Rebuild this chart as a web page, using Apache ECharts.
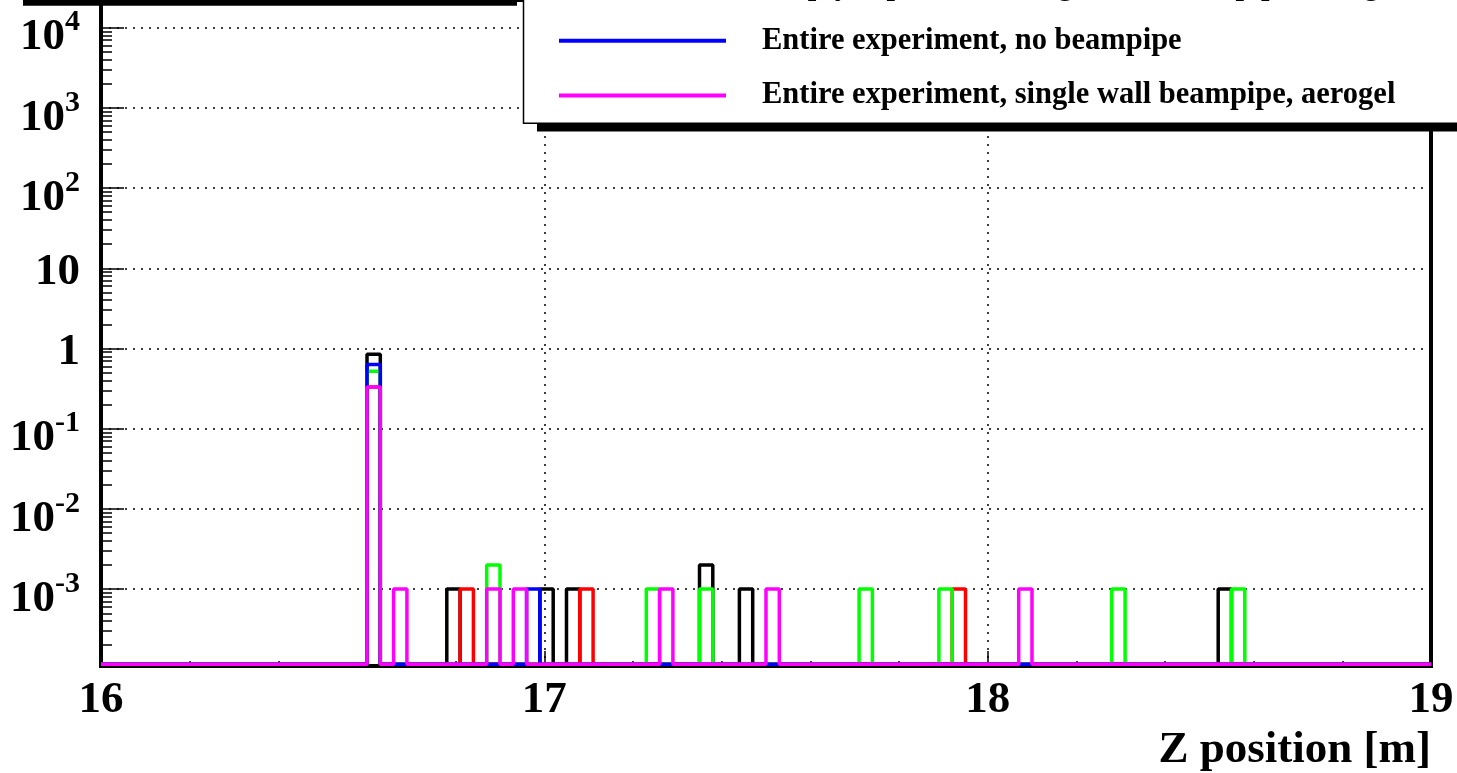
<!DOCTYPE html>
<html>
<head>
<meta charset="utf-8">
<script src="https://cdn.jsdelivr.net/npm/echarts@6/dist/echarts.min.js"></script>
<style>
  html, body { margin: 0; padding: 0; background: #fff; }
  #main { width: 1457px; height: 773px; }
</style>
</head>
<body>
<div id="main"></div>
<script>
// histogram binning: 100 bins over 16..19 m
var binStart = 16
var binWidth = 0.03
var nBins = 100

var seriesNames = [
  'Entire experiment, double wall beampipe',
  'Empty experiment, double wall beampipe',
  'Empty experiment, single wall beampipe, aerogel',
  'Entire experiment, no beampipe',
  'Entire experiment, single wall beampipe, aerogel'
]
var seriesColors = ['#000000', '#ff0000', '#00ff00', '#0000ff', '#ff00ff']

// filled bins (bin index) and their contents, per histogram
var blackBins = [20, 26, 33, 35, 45, 48, 84]
var blackVals = [0.85, 0.001, 0.001, 0.001, 0.002, 0.001, 0.001]
var redBins = [20, 27, 36, 64]
var redVals = [0.33, 0.001, 0.001, 0.001]
var greenBins = [20, 29, 41, 45, 57, 63, 76, 85]
var greenVals = [0.52, 0.002, 0.001, 0.001, 0.001, 0.001, 0.001, 0.001]
var blueBins = [20, 32]
var blueVals = [0.63, 0.001]
var magentaBins = [20, 22, 29, 31, 42, 50, 69]
var magentaVals = [0.33, 0.001, 0.001, 0.001, 0.001, 0.001, 0.001]

var xTicks = [16, 17, 18, 19]
var yMin = 1.1e-4
var yMax = 22130
var emptyLevel = 1.16e-4   // empty bins are drawn on the frame bottom

var font = 'Liberation Serif'

function buildHist (bins, vals) {
  var h = []
  for (var i = 0; i < nBins; i++) h.push(emptyLevel)
  for (var k = 0; k < bins.length; k++) h[bins[k]] = vals[k]
  var pts = []
  for (var j = 0; j < nBins; j++) pts.push([+(binStart + j * binWidth).toFixed(2), h[j]])
  pts.push([+(binStart + nBins * binWidth).toFixed(2), h[nBins - 1]])
  return pts
}

var hists = [
  buildHist(blackBins, blackVals),
  buildHist(redBins, redVals),
  buildHist(greenBins, greenVals),
  buildHist(blueBins, blueVals),
  buildHist(magentaBins, magentaVals)
]

var series = hists.map(function (d, i) {
  return {
    name: seriesNames[i],
    type: 'line',
    step: 'end',
    showSymbol: false,
    yAxisIndex: 0,
    data: d,
    color: seriesColors[i],
    lineStyle: { width: 3.5, color: seriesColors[i] }
  }
})

// log minor ticks (2..9 x 10^n), like ROOT draws them
var minorVals = []
for (var n = -4; n <= 4; n++) {
  for (var m = 2; m <= 9; m++) {
    var mv = m * Math.pow(10, n)
    if (mv > yMin && mv < yMax) minorVals.push(mv)
  }
}

var dotted = { color: '#000', width: 1.5, type: [2, 6] }
var labelBase = { fontFamily: font, fontWeight: 'bold', color: '#000' }

var chart = echarts.init(document.getElementById('main'))
var option = {
  animation: false,
  backgroundColor: '#fff',
  grid: {
    left: 101, right: 26, top: 0, bottom: 106,
    show: true, borderColor: '#000', borderWidth: 4, backgroundColor: 'transparent'
  },
  legend: {
    orient: 'vertical',
    left: 523,
    top: -148.5,
    padding: [10, 120, 11.6, 36],
    itemGap: 23.6,
    itemWidth: 167,
    itemHeight: 4,
    icon: 'rect',
    selectedMode: false,
    z: 10,
    data: seriesNames,
    textStyle: {
      fontFamily: font, fontWeight: 'bold', fontSize: 30.5, color: '#000',
      lineHeight: 30, padding: [0, 0, 0, 31]
    }
  },
  xAxis: {
    type: 'value',
    min: xTicks[0],
    max: xTicks[xTicks.length - 1],
    interval: 1,
    name: 'Z position [m]',
    nameLocation: 'end',
    nameGap: 0,
    nameTextStyle: {
      fontFamily: font, fontWeight: 'bold', fontSize: 45, color: '#000',
      align: 'right', verticalAlign: 'top', padding: [62, 0, 0, 0]
    },
    axisLine: { lineStyle: { color: '#000', width: 3 } },
    axisTick: { inside: true, length: 15, lineStyle: { color: '#000', width: 1.5 } },
    minorTick: { show: true, splitNumber: 5, length: 5, lineStyle: { color: '#000', width: 1.5 } },
    splitLine: { show: true, lineStyle: dotted },
    axisLabel: {
      fontFamily: font, fontWeight: 'bold', fontSize: 45, color: '#000', margin: 12
    }
  },
  yAxis: [
    {
      type: 'log',
      logBase: 10,
      min: yMin,
      max: yMax,
      splitNumber: 8,
      axisLine: { show: true, lineStyle: { color: '#000', width: 4 } },
      axisTick: { inside: true, length: 23, lineStyle: { color: '#000', width: 1.5 } },
      splitLine: { show: true, lineStyle: dotted },
      axisLabel: {
        margin: 21,
        showMinLabel: false,
        showMaxLabel: false,
        formatter: function (v) {
          var e = Math.round(Math.log10(v))
          if (e === 0) return '{b|1}'
          if (e === 1) return '{b|10}'
          return '{bb|10}{s|' + e + '}'
        },
        rich: {
          b: Object.assign({ fontSize: 45, padding: [8, 0, 0, 0] }, labelBase),
          bb: Object.assign({ fontSize: 45, padding: [20, 0, 0, 0], verticalAlign: 'bottom' }, labelBase),
          s: Object.assign({ fontSize: 30, padding: [12.5, 0, 0, 0], verticalAlign: 'top' }, labelBase)
        }
      }
    },
    {
      // minor ticks only
      type: 'log',
      logBase: 10,
      min: yMin,
      max: yMax,
      position: 'left',
      axisLine: { show: false },
      axisLabel: { show: false },
      splitLine: { show: false },
      axisTick: {
        show: true, inside: true, length: 11, customValues: minorVals,
        lineStyle: { color: '#000', width: 1.5 }
      }
    }
  ],
  graphic: [
    { type: 'rect', z: 5, shape: { x: 23, y: 0, width: 494, height: 5.7 }, style: { fill: '#000' } },
    { type: 'rect', z: 5, shape: { x: 537, y: 123, width: 1000, height: 8.6 }, style: { fill: '#000' } },
    { type: 'rect', z: 6, shape: { x: 523.5, y: -20, width: 1000, height: 143.3 }, style: { fill: '#fff', stroke: '#000', lineWidth: 1.5 } }
  ],
  series: series
}
chart.setOption(option)
</script>
</body>
</html>
